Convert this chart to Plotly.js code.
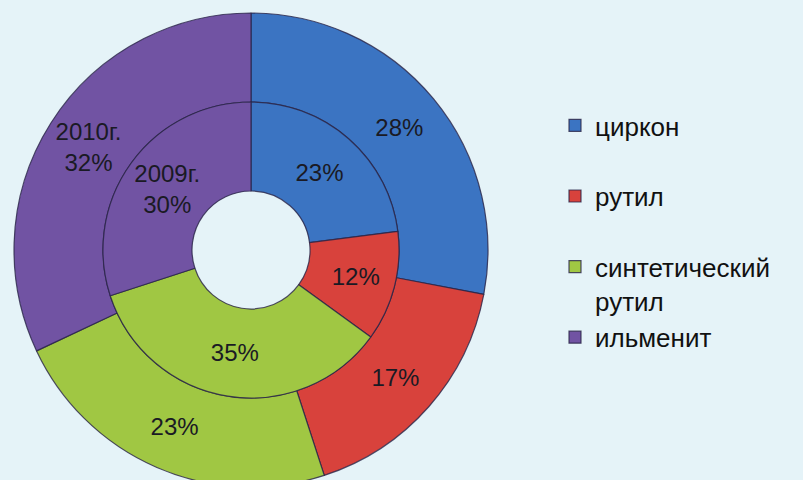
<!DOCTYPE html>
<html>
<head>
<meta charset="utf-8">
<script src="https://cdn.plot.ly/plotly-3.0.1.min.js"></script>
<style>
  html, body { margin: 0; padding: 0; background: #e5f3f8; overflow: hidden; }
  #wrap { width: 803px; height: 480px; overflow: hidden; }
  #chart { width: 803px; height: 500px; }
</style>
</head>
<body>
<div id="wrap"><div id="chart"></div></div>
<script>
// Data
const categories = ['циркон', 'рутил', 'синтетический<br>рутил', 'ильменит'];
const values2010 = [28, 17, 23, 32];
const values2009 = [23, 12, 35, 30];
const yearLabels = ['2010г.', '2009г.'];
const colors = ['#3b74c2', '#d8423c', '#a0c743', '#7153a3'];

// Legend spacing: pad single-line labels with a blank line
const legendLabels = categories.map((c, i) => (i < 2 ? c + '<br>\u00a0' : c));

function makeText(vals, year) {
  return vals.map((v, i) => (i === vals.length - 1 ? year + '<br>' + v + '%' : v + '%'));
}

const W = 803, H = 500, mt = 13, mb = 13;
const plotH = H - mt - mb;
const cx = 251, cy = 250;
const rOuter = 237, rMid = 148, rHole = 59;

function dom(r) {
  return {
    x: [(cx - r) / W, (cx + r) / W],
    y: [(H - mb - cy - r) / plotH, (H - mb - cy + r) / plotH]
  };
}

const common = {
  type: 'pie',
  labels: legendLabels,
  sort: false,
  direction: 'clockwise',
  rotation: 0,
  textinfo: 'text',
  textposition: 'inside',
  insidetextorientation: 'horizontal',
  hoverinfo: 'none',
  textfont: { family: 'Liberation Sans, Arial, sans-serif', size: 24, color: '#1a1a24' },
  marker: { colors: colors, line: { color: 'rgba(40,35,70,0.8)', width: 1.2 } }
};

const outer = Object.assign({}, common, {
  values: values2010,
  text: makeText(values2010, yearLabels[0]),
  hole: rMid / rOuter,
  domain: dom(rOuter)
});

const inner = Object.assign({}, common, {
  values: values2009,
  text: makeText(values2009, yearLabels[1]),
  hole: rHole / rMid,
  domain: dom(rMid),
  showlegend: false
});

const layout = {
  width: W,
  height: H,
  margin: { l: 0, r: 0, t: mt, b: mb },
  paper_bgcolor: '#e5f3f8',
  plot_bgcolor: '#e5f3f8',
  showlegend: true,
  legend: {
    x: 555 / W,
    xanchor: 'left',
    y: (H - mb - 102) / plotH,
    yanchor: 'top',
    valign: 'top',
    bgcolor: 'rgba(0,0,0,0)',
    font: { family: 'Liberation Sans, Arial, sans-serif', size: 26, color: '#111111' },
    traceorder: 'normal'
  },
  font: { family: 'Liberation Sans, Arial, sans-serif' }
};

Plotly.newPlot('chart', [outer, inner], layout, { displayModeBar: false, staticPlot: true });
</script>
</body>
</html>
